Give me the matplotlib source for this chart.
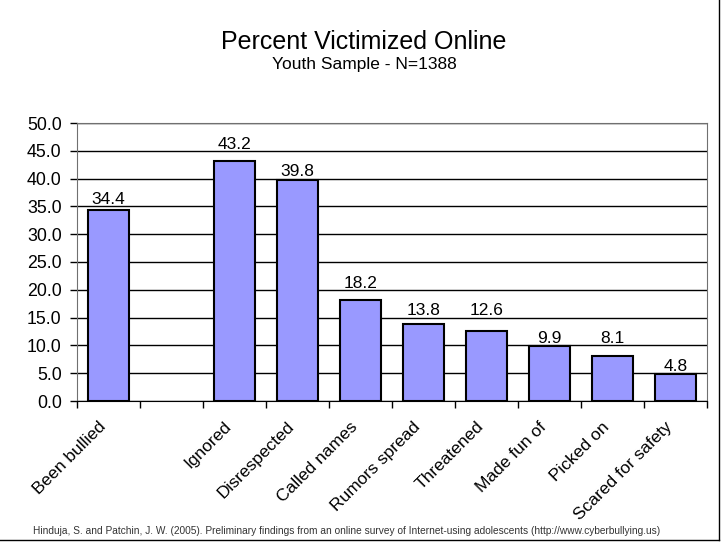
import matplotlib.pyplot as plt
import numpy as np

categories = ["Been bullied", "", "Ignored", "Disrespected", "Called names",
              "Rumors spread", "Threatened", "Made fun of", "Picked on",
              "Scared for safety"]
values = [34.4, np.nan, 43.2, 39.8, 18.2, 13.8, 12.6, 9.9, 8.1, 4.8]
yticks = np.arange(0, 50.1, 5)

plt.rcParams['font.family'] = ['Liberation Sans', 'DejaVu Sans']

fig = plt.figure(figsize=(7.28, 5.46), dpi=100)
ax = fig.add_axes([77 / 728, 1 - 401 / 546, 630 / 728, 278 / 546])

x = np.arange(len(categories))
vals = np.array(values, dtype=float)
ok = ~np.isnan(vals)
ax.bar(x[ok], vals[ok], width=0.65, color='#9999ff', edgecolor='black',
       linewidth=1.5, zorder=3)
# labels sit just above the next gridline over each bar
for xi, v in zip(x[ok], vals[ok]):
    ly = np.ceil(v / 5) * 5 + 0.4
    ax.text(xi, ly, f"{v:.1f}", ha='center', va='baseline', fontsize=12.5, zorder=4)

ax.set_xlim(-0.5, len(categories) - 0.5)
ax.set_ylim(0, 50)
ax.set_yticks(yticks)
ax.set_yticklabels([f"{t:.1f}" for t in yticks], fontsize=12.8)
ax.yaxis.grid(True, color='black', linewidth=1, zorder=0)
ax.set_axisbelow(True)

# category ticks sit between slots, labels near slot centres
ax.set_xticks(np.arange(-0.5, len(categories), 1))
ax.set_xticklabels([])
ax.set_xticks(x - 0.17, minor=True)
ax.set_xticklabels(categories, minor=True, rotation=45, ha='right', va='top',
                   rotation_mode='anchor', fontsize=12.5)
ax.tick_params(axis='x', which='minor', length=0, pad=13)
ax.tick_params(axis='x', which='major', length=5, width=1, direction='out')
ax.tick_params(axis='y', length=5, width=1, direction='out', pad=6)

for s in ['top', 'right', 'left']:
    ax.spines[s].set_color('#707070')
ax.spines['bottom'].set_color('black')

fig.text(364 / 728, 1 - 42 / 546, "Percent Victimized Online", ha='center',
         va='center', fontsize=18)
fig.text(364 / 728, 1 - 64 / 546, "Youth Sample - N=1388", ha='center',
         va='center', fontsize=12.5)
fig.text(33 / 728, 1 - 531 / 546,
         "Hinduja, S. and Patchin, J. W. (2005). Preliminary findings from an online survey of "
         "Internet-using adolescents (http://www.cyberbullying.us)",
         ha='left', va='center', fontsize=7.3, color='#333333')

# slide frame lines at right and bottom
fig.add_artist(plt.Line2D([719 / 728, 719 / 728], [1 - 540 / 546, 1], color='black',
                          linewidth=1, transform=fig.transFigure))
fig.add_artist(plt.Line2D([0, 719 / 728], [1 - 540 / 546, 1 - 540 / 546], color='black',
                          linewidth=1, transform=fig.transFigure))

fig.savefig("out.png", dpi=100)
